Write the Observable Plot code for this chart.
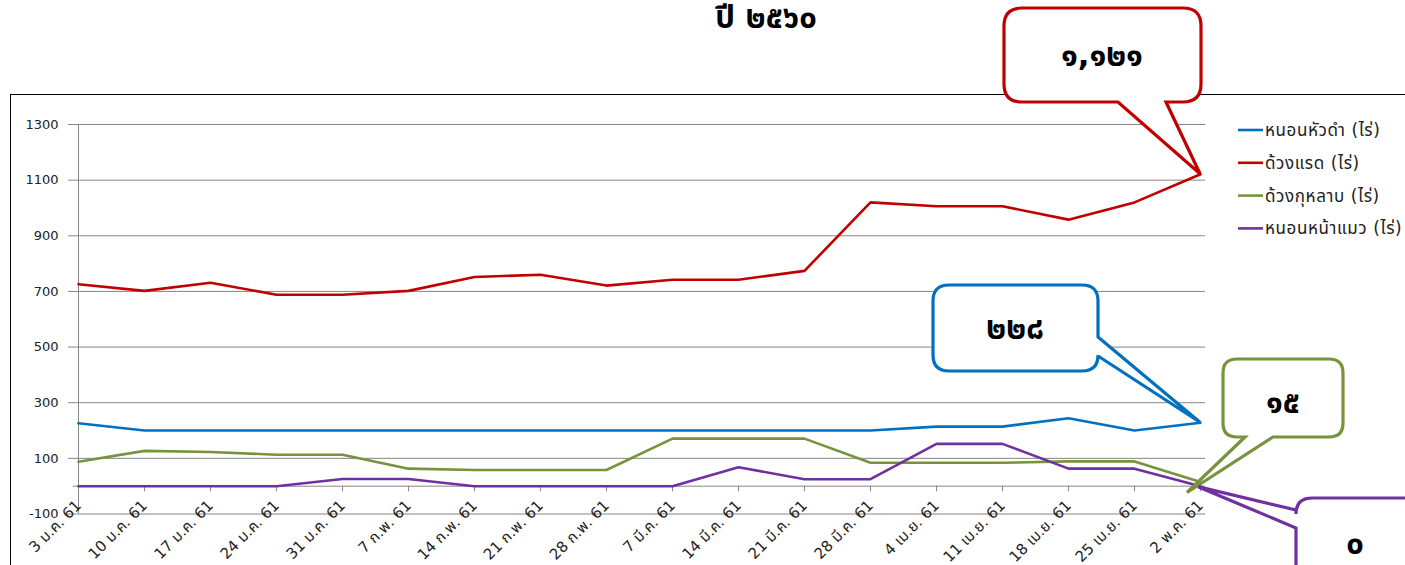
<!DOCTYPE html>
<html><head><meta charset="utf-8">
<script src="https://cdn.jsdelivr.net/npm/d3@7"></script>
<script src="https://cdn.jsdelivr.net/npm/@observablehq/plot@0.6"></script>
<style>html,body{margin:0;padding:0;background:#fff;overflow:hidden}</style>
</head><body><div id="chart"></div>
<script>
const title = "ปี ๒๕๖๐";
const categories = ["3 ม.ค. 61","10 ม.ค. 61","17 ม.ค. 61","24 ม.ค. 61","31 ม.ค. 61","7 ก.พ. 61","14 ก.พ. 61","21 ก.พ. 61","28 ก.พ. 61","7 มี.ค. 61","14 มี.ค. 61","21 มี.ค. 61","28 มี.ค. 61","4 เม.ย. 61","11 เม.ย. 61","18 เม.ย. 61","25 เม.ย. 61","2 พ.ค. 61"];
const seriesNames = ["หนอนหัวดำ (ไร่)","ด้วงแรด (ไร่)","ด้วงกุหลาบ (ไร่)","หนอนหน้าแมว (ไร่)"];
const seriesColors = ["#0070C0","#C00000","#77933C","#7030A0"];
const blackHeadedCaterpillar = [226,200,200,200,200,200,200,200,200,200,200,200,200,214,214,244,200,228];
const rhinocerosBeetle = [726,702,731,688,688,702,752,760,721,742,742,774,1020,1006,1006,958,1020,1121];
const roseBeetle = [88,127,123,113,113,63,58,58,58,171,171,171,84,84,84,89,89,15];
const nettleCaterpillar = [0,0,0,0,26,26,0,0,0,0,68,25,25,152,152,63,63,0];
const yTicks = [-100,100,300,500,700,900,1100,1300];

const allSeries = [blackHeadedCaterpillar, rhinocerosBeetle, roseBeetle, nettleCaterpillar];
const rows = allSeries.flatMap((vals, i) => vals.map((v, j) => ({date: categories[j], value: v, series: seriesNames[i]})));

const FONT = "Tahoma, 'DejaVu Sans', 'Noto Sans Thai', sans-serif";
const GRID = "#868686";

const chart = Plot.plot({
  width: 1405, height: 565,
  marginLeft: 73, marginRight: 200, marginTop: 124, marginBottom: 51.5,
  style: {fontFamily: FONT, fontSize: "13px", background: "#fff", color: "#222"},
  x: {type: "point", domain: categories, padding: 0, axis: null},
  y: {domain: [-100, 1300], axis: null},
  color: {domain: seriesNames, range: seriesColors},
  marks: [
    Plot.gridY({ticks: yTicks, stroke: GRID, strokeOpacity: 1, strokeWidth: 1}),
    Plot.axisY({ticks: yTicks, tickSize: 5, tickPadding: 10, stroke: GRID, tickFormat: d => String(d), label: null, fontSize: 13, fill: "#222"}),
    Plot.ruleX([categories[0]], {y1: -100, y2: 1300, stroke: GRID}),
    Plot.ruleY([0], {stroke: GRID}),
    Plot.ruleX(categories, {x: d => d, y1: 0, y2: -20, stroke: GRID}),
    Plot.text(categories, {x: d => d, y: 0, text: d => d, rotate: -45, textAnchor: "end", dy: 17, dx: 0, fontSize: 15, fill: "#222"}),
    Plot.line(rows, {x: "date", y: "value", z: "series", stroke: "series", strokeWidth: 2.6, strokeLinejoin: "round"})
  ]
});
document.getElementById("chart").append(chart);

const svg = d3.select(chart);
const xs = chart.scale("x"), ys = chart.scale("y");

// chart border (behind everything)
svg.insert("rect", ":first-child").attr("x", 10.5).attr("y", 94.5).attr("width", 1500).attr("height", 600)
  .attr("fill", "none").attr("stroke", "#000").attr("stroke-width", 1);

// title
svg.append("text").attr("x", 766).attr("y", 28).attr("text-anchor", "middle")
  .attr("font-size", 31).attr("font-weight", "bold").attr("fill", "#000").text(title);

// legend
const leg = svg.append("g");
seriesNames.forEach((name, i) => {
  const y = 130 + i * 32.8;
  leg.append("line").attr("x1", 1238).attr("x2", 1263).attr("y1", y).attr("y2", y)
    .attr("stroke", seriesColors[i]).attr("stroke-width", 2.6);
  leg.append("text").attr("x", 1265).attr("y", y).attr("dy", "0.35em").attr("text-anchor", "start")
    .attr("font-size", 17).attr("letter-spacing", 0.6).attr("fill", "#222").text(name);
});

// callouts
const thaiDigits = "๐๑๒๓๔๕๖๗๘๙";
const toThai = v => d3.format(",")(v).replace(/[0-9]/g, c => thaiDigits[+c]);
function calloutPath(x0, y0, x1, y1, r, side, a, b, tx, ty) {
  let p = `M${x0 + r},${y0}`;
  p += `L${x1 - r},${y0}Q${x1},${y0} ${x1},${y0 + r}`;
  if (side === "right") p += `L${x1},${a}L${tx},${ty}L${x1},${b}`;
  p += `L${x1},${y1 - r}Q${x1},${y1} ${x1 - r},${y1}`;
  if (side === "bottom") p += `L${b},${y1}L${tx},${ty}L${a},${y1}`;
  p += `L${x0 + r},${y1}Q${x0},${y1} ${x0},${y1 - r}`;
  if (side === "left") p += `L${x0},${b}L${tx},${ty}L${x0},${a}`;
  p += `L${x0},${y0 + r}Q${x0},${y0} ${x0 + r},${y0}Z`;
  return p;
}
const last = categories.length - 1;
const xLast = xs.apply(categories[last]);
const callouts = [
  {series: 1, box: [1004, 8, 1201, 102], r: 18, side: "bottom", a: 1118, b: 1166, off: [0, 0], text: [1102, 55]},
  {series: 0, box: [933, 285, 1098, 371], r: 16, side: "right", a: 337, b: 356, off: [0, 0], text: [1015, 328]},
  {series: 2, box: [1223, 359, 1343, 437], r: 14, side: "bottom", a: 1245, b: 1273, off: [-13, 11], text: [1283, 402]},
  {series: 3, box: [1296, 498, 1430, 600], r: 16, side: "left", a: 510, b: 528, off: [-2, 1], text: [1355, 543]}
];
callouts.forEach(c => {
  const v = allSeries[c.series][last];
  const tx = xLast + c.off[0], ty = ys.apply(v) + c.off[1];
  const [x0, y0, x1, y1] = c.box;
  svg.append("path").attr("d", calloutPath(x0, y0, x1, y1, c.r, c.side, c.a, c.b, tx, ty))
    .attr("fill", "#fff").attr("stroke", seriesColors[c.series]).attr("stroke-width", 3.2).attr("stroke-linejoin", "miter");
  svg.append("text").attr("x", c.text[0]).attr("y", c.text[1]).attr("dy", "0.35em").attr("text-anchor", "middle")
    .attr("font-size", 31).attr("font-weight", "bold").attr("fill", "#000").text(toThai(v));
});
</script>
</body></html>
